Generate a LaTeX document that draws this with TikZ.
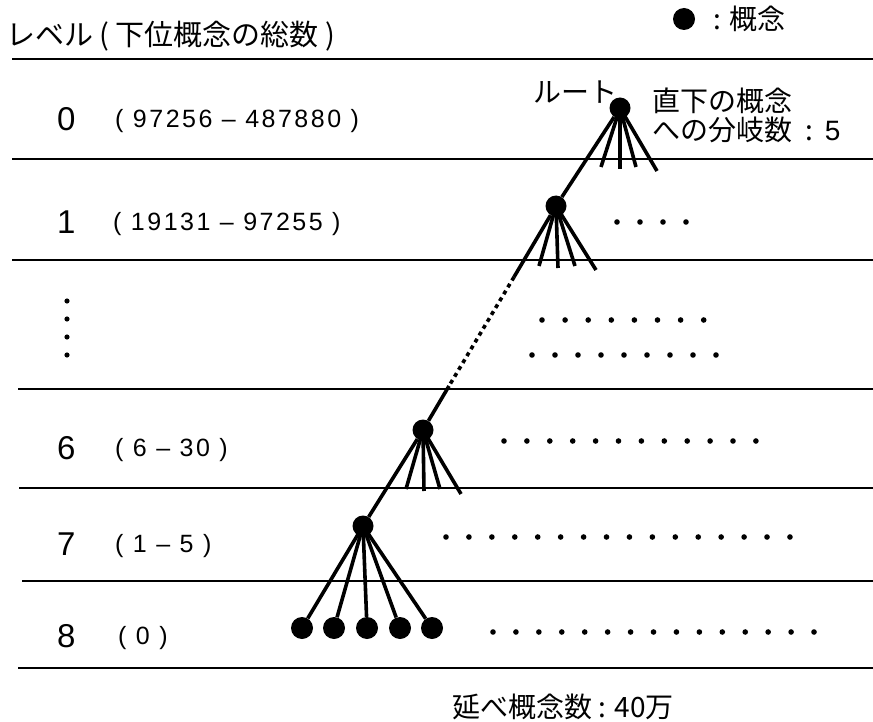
\documentclass[tikz,border=0pt]{standalone}
\usepackage{fontspec}
\setmainfont{Liberation Sans}
\newfontfamily\cjk{Noto Sans CJK JP}
\newfontfamily\numfont[LetterSpace=10]{Liberation Sans}
\begin{document}
\begin{tikzpicture}[x=1pt,y=-1pt,
  concept/.style={circle,fill=black,inner sep=0pt,minimum size=21pt},
  branch/.style={line width=3.6pt},
  dotbranch/.style={line width=3.6pt,dash pattern=on 4pt off 4pt},
  rule/.style={line width=2.4pt},
  jp/.style={font=\cjk\fontsize{28}{30}\selectfont,inner sep=0pt,anchor=west},
  lvl/.style={font=\fontsize{33}{36}\selectfont,inner sep=0pt,anchor=base west},
  rng/.style={font=\numfont\fontsize{25}{28}\selectfont,inner sep=0pt,anchor=base west}]
\useasboundingbox (0,0) rectangle (873,722);

% horizontal rules
\draw[rule] (12,59) -- (873,59);
\draw[rule] (12,159) -- (873,159);
\draw[rule] (12,260) -- (873,260);
\draw[rule] (18,389) -- (873,389);
\draw[rule] (19,488) -- (873,488);
\draw[rule] (22,581) -- (873,581);
\draw[rule] (18,668) -- (873,668);

% header texts
\node[jp,font=\cjk\fontsize{29}{31}\selectfont] (title) at (6,36) {レベル ( 下位概念の総数 )};
\node[concept,minimum size=22pt] (legdot) at (684,19) {};
\node[jp] (legtext) at (713,19) {: 概念};

% level labels
\node[lvl] (l0) at (57,131) {0};
\node[rng] (r0) at (115,128) {( 97256 – 487880 )};
\node[lvl] (l1) at (57,234) {1};
\node[rng] (r1) at (113,231) {( 19131 – 97255 )};
\node[lvl] (l6) at (57,459) {6};
\node[rng] (r6) at (115,456) {( 6 – 30 )};
\node[lvl] (l7) at (57,555) {7};
\node[rng] (r7) at (115,552) {( 1 – 5 )};
\node[lvl] (l8) at (57,647) {8};
\node[rng] (r8) at (118,644) {( 0 )};

% vertical ellipsis
\foreach \y in {301,319,337,355} \fill (67,\y) circle (2.6pt);

% tree nodes
\node[concept] (n0) at (620,108) {};
\node[concept] (n1) at (556,206) {};
\node[concept] (n6) at (423,430) {};
\node[concept] (n7) at (363,526) {};
\node[concept,minimum size=22pt] (c1) at (302,628) {};
\node[concept,minimum size=22pt] (c2) at (334,628) {};
\node[concept,minimum size=22pt] (c3) at (367,628) {};
\node[concept,minimum size=22pt] (c4) at (400,628) {};
\node[concept,minimum size=22pt] (c5) at (432,628) {};

\coordinate (d1) at (514,277);
\coordinate (d2) at (449,386);
\coordinate (e01) at (601,167);
\coordinate (e02) at (620,169);
\coordinate (e03) at (636,167);
\coordinate (e04) at (657,171);
\coordinate (e11) at (539,266);
\coordinate (e12) at (558,268);
\coordinate (e13) at (575,266);
\coordinate (e14) at (596,270);
\coordinate (e61) at (406,489);
\coordinate (e62) at (424,491);
\coordinate (e63) at (440,489);
\coordinate (e64) at (461,494);

% connectors
\draw[branch] (n0) -- (n1);
\foreach \e in {e01,e02,e03,e04} \draw[branch] (n0.center) -- (\e);
\draw[branch] (n1) -- (d1);
\draw[dotbranch] (d1) -- (d2);
\draw[branch] (d2) -- (n6);
\foreach \e in {e11,e12,e13,e14} \draw[branch] (n1.center) -- (\e);
\foreach \e in {e61,e62,e63,e64} \draw[branch] (n6.center) -- (\e);
\draw[branch] (n6) -- (n7);
\foreach \c in {c1,c2,c3,c4,c5} \draw[branch] (n7.center) -- (\c);

% root labels
\node[jp] (rootlbl) at (533,92) {ルート};
\node[jp] (br1) at (652,101) {直下の概念};
\node[jp] (br2) at (652,130) {への分岐数\hspace{13pt}:\hspace{12pt}{\fontspec{Liberation Sans}5}};

% dot rows
\foreach \i in {0,...,3} \fill (617+23*\i,222) circle (2.8pt);
\foreach \i in {0,...,7} \fill (542+23.1*\i,320) circle (2.8pt);
\foreach \i in {0,...,8} \fill (532+23*\i,355) circle (2.8pt);
\foreach \i in {0,...,11} \fill (504+22.9*\i,441) circle (2.8pt);
\foreach \i in {0,...,15} \fill (446+22.93*\i,537) circle (2.8pt);
\foreach \i in {0,...,14} \fill (493+22.93*\i,632) circle (2.8pt);

% total
\node[jp] (total) at (452,707) {延べ概念数 : 40万};
\end{tikzpicture}
\end{document}
